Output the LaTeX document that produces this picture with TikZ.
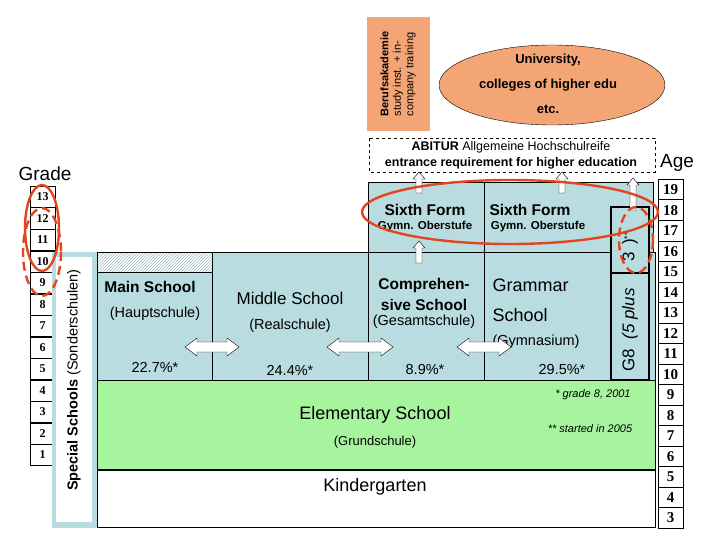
\documentclass[tikz,border=0pt]{standalone}
\usepackage{fontspec}
\setmainfont{Liberation Sans}
\newfontfamily\serifnum{Liberation Serif}
\usetikzlibrary{shapes.geometric,patterns}
\definecolor{sblue}{HTML}{B9DCE0}
\definecolor{sgreen}{HTML}{A6F59E}
\definecolor{sorange}{HTML}{F4A576}
\definecolor{sred}{HTML}{E2461E}
\newcommand\myuparr[3]{\draw[fill=white] (#1-3,#2) -- (#1+3,#2) -- (#1+3,#3+7) -- (#1+6,#3+7) -- (#1,#3) -- (#1-6,#3+7) -- (#1-3,#3+7) -- cycle;}
\newcommand\mydblarr[3]{\draw[fill=white] (#1-#3,#2) -- (#1-#3+12,#2-9) -- (#1-#3+12,#2-5) -- (#1+#3-12,#2-5) -- (#1+#3-12,#2-9) -- (#1+#3,#2) -- (#1+#3-12,#2+9) -- (#1+#3-12,#2+5) -- (#1-#3+12,#2+5) -- (#1-#3+12,#2+9) -- cycle;}
\begin{document}
\begin{tikzpicture}[x=1pt,y=-1pt,
  cell/.style={draw,fill=white,minimum width=25pt,minimum height=21.4pt,inner sep=0pt,font=\serifnum\bfseries\fontsize{12}{12}\selectfont},
  box/.style={draw,fill=sblue},
  lbl/.style={font=\fontsize{14.5}{17}\selectfont,align=center},
  blbl/.style={font=\fontsize{15.5}{18}\selectfont\bfseries,align=center},
  small/.style={font=\fontsize{13}{15}\selectfont,align=center},
  redell/.style={draw=sred,line width=2.4pt},
  reddash/.style={draw=sred,line width=2.4pt,dash pattern=on 9pt off 5pt}]
\useasboundingbox (0,0) rectangle (720,540);
% grade column
\foreach \g [count=\i from 0] in {13,12,11,10,9,8,7,6,5,4,3,2,1}
  \node[cell,anchor=north west] (g\g) at (30,{186+\i*21.5}) {\g};
\node[font=\fontsize{19}{21}\selectfont] (grade) at (45,174) {Grade};
% age column
\foreach \a [count=\i from 0] in {19,18,...,3}
  \node[cell,anchor=north west,font=\serifnum\bfseries\fontsize{15}{15}\selectfont] (a\a) at (658,{179+\i*20.5}) {\a};
\node[font=\fontsize{19}{21}\selectfont] (age) at (677,163) {Age};
% special schools
\draw[sblue,fill=sblue] (52,252) rectangle (97,527);
\fill[white] (56,257) rectangle (92,522);
\node[rotate=90,font=\fontsize{14.5}{17}\selectfont] (spec) at (74,380) {\textbf{Special Schools} (Sonderschulen)};
% kindergarten & elementary
\draw (97,470) rectangle (655,527);
\draw[fill=sgreen] (97,380) rectangle (655,470);
\draw[line width=1.5pt] (97,470) -- (655,470);
\node[font=\fontsize{18}{20}\selectfont] (ele) at (375,415) {Elementary School};
\node[small] (grund) at (375,442) {(Grundschule)};
\node[font=\fontsize{18}{20}\selectfont] (kg) at (375,487) {Kindergarten};
\node[font=\fontsize{11}{13}\selectfont\itshape] (n1) at (593,395) {* grade 8, 2001};
\node[font=\fontsize{11}{13}\selectfont\itshape] (n2) at (590,429) {** started in 2005};
% main school
\draw[box] (97,272) rectangle (212,380);
\draw[pattern=north east lines,pattern color=sblue!85!black] (97,252) rectangle (212,272);
\node[blbl] (ms) at (150,287) {Main School};
\node[lbl] at (155,314) {(Hauptschule)};
\node[lbl] at (155,367) {22.7\%*};
% middle school
\draw[box] (212,252) rectangle (368,380);
\node[font=\fontsize{17}{20}\selectfont] (mid) at (290,298) {Middle School};
\node[lbl] at (290,326) {(Realschule)};
\node[lbl] at (290,370) {24.4\%*};
% comprehensive
\draw[box] (368,252) rectangle (484,380);
\draw[box] (368,182) rectangle (484,252);
\node[font=\fontsize{15.5}{21}\selectfont\bfseries,align=center] (comp) at (424,294) {Comprehen-\\sive School};
\node[lbl] at (424,322) {(Gesamtschule)};
\node[lbl] at (425,370) {8.9\%*};
\node[blbl] (sf1) at (425,210) {Sixth Form};
\node[font=\fontsize{11.5}{13}\selectfont\bfseries] at (425,227) {Gymn. Oberstufe};
% grammar
\draw[box] (484,252) rectangle (655,380);
\draw[box] (484,182) rectangle (653,252);
\node[font=\fontsize{18}{20}\selectfont,anchor=west] (gram) at (489,285) {Grammar};
\node[font=\fontsize{18}{20}\selectfont,anchor=west] at (489,315) {School};
\node[lbl,anchor=west] at (489,342) {(Gymnasium)};
\node[lbl] at (562,370) {29.5\%*};
\node[blbl] (sf2) at (530,210) {Sixth Form};
\node[font=\fontsize{11.5}{13}\selectfont\bfseries] at (538,227) {Gymn. Oberstufe};
% G8
\draw[line width=1.5pt,fill=sblue] (611,207) rectangle (649,380);
\draw[line width=1.5pt] (611,273) -- (649,273);
\node[rotate=90,font=\fontsize{17}{19}\selectfont,anchor=west] (g8) at (630,375) {G8\ \ \textit{(5 plus}\quad\ \ 3\ \,)\raisebox{4pt}{\small **}};
% ABITUR
\draw[dashed] (369,138) rectangle (655,172);
\node[font=\fontsize{12.5}{16}\selectfont,align=center] (abi) at (511,155) {\textbf{ABITUR} Allgemeine Hochschulreife\\\textbf{entrance requirement for higher education}};
% Berufsakademie
\fill[sorange] (367,17) rectangle (430,131);
\node[rotate=90,font=\fontsize{11}{12.5}\selectfont,align=left] (ba) at (398,74) {\textbf{Berufsakademie}\\study inst. + in-\\company training};
\node[ellipse,draw,fill=sorange,minimum width=226pt,minimum height=80pt,inner sep=0pt] (uni) at (552,85) {};
\node[font=\fontsize{13}{15}\selectfont\bfseries] at (548,60) {University,};
\node[font=\fontsize{13}{15}\selectfont\bfseries] at (548,85) {colleges of higher edu};
\node[font=\fontsize{13}{15}\selectfont\bfseries] at (548,109) {etc.};
% arrows
\myuparr{419}{193}{172}
\myuparr{562}{193}{172}
\myuparr{419}{263}{241}
\myuparr{633}{210}{178}
\mydblarr{212}{347}{27}
\mydblarr{360}{347}{33}
\mydblarr{484}{347}{27}
% red ellipses
\draw[redell] (42,228) ellipse (17 and 43);
\draw[reddash] (42,252) ellipse (19 and 44);
\draw[redell] (510,212) ellipse (148 and 32);
\draw[reddash] (636,240) ellipse (17 and 33);
\end{tikzpicture}
\end{document}
